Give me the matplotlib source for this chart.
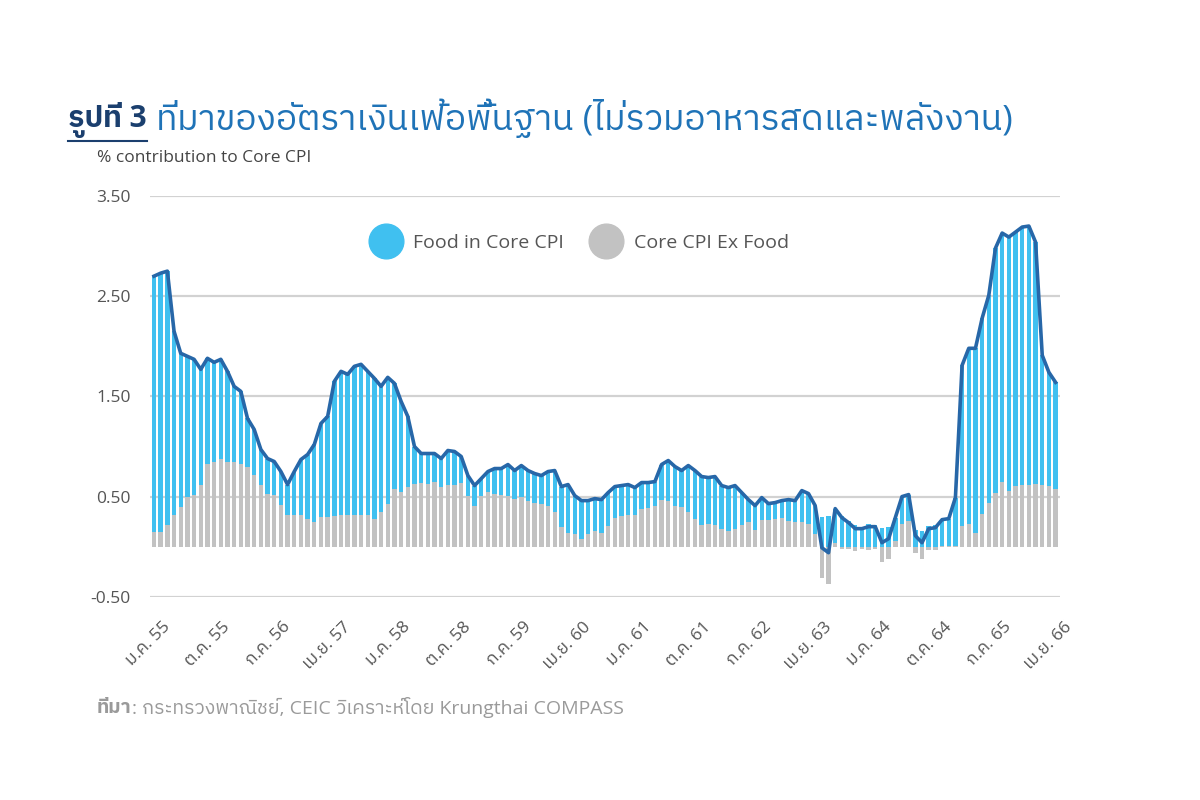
import numpy as np
import matplotlib
matplotlib.use("Agg")
import matplotlib.pyplot as plt
from matplotlib import font_manager
from matplotlib.ft2font import FT2Font
from matplotlib.lines import Line2D
from matplotlib.transforms import ScaledTranslation

# === Thai font suchen (DejaVu hat keine Thai-Glyphen) ===
def find_thai_font():
    names = []
    for f in font_manager.fontManager.ttflist:
        try:
            if 0x0E21 in FT2Font(f.fname).get_charmap():
                names.append(f.name)
        except Exception:
            pass
    names = sorted(set(names))
    for n in names:
        if "Thai" in n and "Sans" in n and "Looped" not in n:
            return n
    for n in names:
        if "Thai" in n:
            return n
    return names[0] if names else "DejaVu Sans"

THAI = find_thai_font()
FAMILY = ["Open Sans", THAI, "DejaVu Sans"]
plt.rcParams["font.family"] = FAMILY

# === Daten (Jan 2012 - Apr 2023, monatlich) ===
total = [2.70, 2.73, 2.75, 2.15, 1.93, 1.90, 1.87, 1.77, 1.88, 1.84, 1.87, 1.75,
         1.60, 1.55, 1.28, 1.17, 0.97, 0.88, 0.85, 0.75, 0.62, 0.75, 0.87, 0.92,
         1.02, 1.23, 1.30, 1.65, 1.75, 1.72, 1.80, 1.82, 1.75, 1.68, 1.60, 1.69,
         1.63, 1.45, 1.30, 1.00, 0.93, 0.93, 0.93, 0.88, 0.96, 0.95, 0.90, 0.71,
         0.61, 0.68, 0.75, 0.78, 0.78, 0.82, 0.76, 0.81, 0.76, 0.73, 0.71, 0.75,
         0.76, 0.60, 0.62, 0.51, 0.46, 0.46, 0.48, 0.47, 0.54, 0.60, 0.61, 0.62,
         0.59, 0.64, 0.64, 0.65, 0.82, 0.86, 0.80, 0.76, 0.81, 0.76, 0.70, 0.69,
         0.70, 0.61, 0.59, 0.61, 0.54, 0.47, 0.41, 0.49, 0.43, 0.44, 0.46, 0.47,
         0.46, 0.56, 0.53, 0.41, -0.01, -0.06, 0.38, 0.29, 0.24, 0.18, 0.18, 0.20,
         0.20, 0.04, 0.08, 0.29, 0.50, 0.52, 0.11, 0.04, 0.18, 0.19, 0.27, 0.28,
         0.49, 1.81, 1.98, 1.98, 2.28, 2.51, 2.98, 3.13, 3.09, 3.14, 3.19, 3.20,
         3.04, 1.91, 1.74, 1.64]

ex_food = [0.15, 0.15, 0.22, 0.32, 0.40, 0.50, 0.52, 0.62, 0.83, 0.85, 0.88, 0.85,
           0.85, 0.83, 0.80, 0.72, 0.62, 0.53, 0.52, 0.42, 0.32, 0.32, 0.32, 0.28,
           0.25, 0.30, 0.30, 0.31, 0.32, 0.32, 0.32, 0.32, 0.32, 0.28, 0.35, 0.43,
           0.58, 0.55, 0.60, 0.63, 0.64, 0.63, 0.65, 0.60, 0.62, 0.62, 0.64, 0.51,
           0.41, 0.51, 0.55, 0.53, 0.52, 0.51, 0.48, 0.50, 0.46, 0.44, 0.43, 0.41,
           0.35, 0.20, 0.14, 0.13, 0.08, 0.13, 0.16, 0.14, 0.21, 0.29, 0.31, 0.32,
           0.32, 0.38, 0.39, 0.41, 0.47, 0.46, 0.41, 0.40, 0.35, 0.28, 0.22, 0.23,
           0.22, 0.18, 0.16, 0.18, 0.22, 0.25, 0.17, 0.27, 0.27, 0.28, 0.29, 0.26,
           0.25, 0.25, 0.23, 0.13, -0.31, -0.37, 0.04, -0.02, -0.02, -0.04, -0.02, -0.03,
           -0.02, -0.15, -0.12, 0.06, 0.23, 0.26, -0.06, -0.12, -0.03, -0.03, 0.01, 0.01,
           0.01, 0.21, 0.23, 0.14, 0.33, 0.44, 0.54, 0.65, 0.56, 0.61, 0.62, 0.62,
           0.63, 0.62, 0.61, 0.58]

tick_labels = ["ม.ค. 55", "ต.ค. 55", "ก.ค. 56", "เม.ย. 57", "ม.ค. 58", "ต.ค. 58",
               "ก.ค. 59", "เม.ย. 60", "ม.ค. 61", "ต.ค. 61", "ก.ค. 62", "เม.ย. 63",
               "ม.ค. 64", "ต.ค. 64", "ก.ค. 65", "เม.ย. 66"]
tick_step = 9

y_ticks = [-0.5, 0.5, 1.5, 2.5, 3.5]

# === Farben ===
BLUE = "#40C0F0"
GRAY = "#C2C2C2"
LINE = "#2767A8"
TXT = "#555555"

total = np.array(total)
ex_food = np.array(ex_food)
food = total - ex_food
x = np.arange(len(total))
food_bottom = np.where(ex_food > 0, ex_food, 0)

fig = plt.figure(figsize=(12, 8), dpi=100)
ax = fig.add_axes([0.125, 0.254, 0.758, 0.501])

ax.bar(x, ex_food, width=0.66, color=GRAY, zorder=2)
ax.bar(x, food, bottom=food_bottom, width=0.66, color=BLUE, zorder=2)
ax.plot(x, total, color=LINE, lw=2.6, zorder=3, solid_joinstyle="round")

ax.set_ylim(-0.5, 3.5)
ax.set_xlim(-0.6, len(total) - 0.4)
ax.set_yticks(y_ticks)
ax.set_yticklabels([f"{v:.2f}" for v in y_ticks], fontsize=12.5, color=TXT)
ax.yaxis.grid(True, color="#D2D2D2", lw=1.6, zorder=0)
ax.set_axisbelow(True)
for s in ax.spines.values():
    s.set_visible(False)
ax.tick_params(axis="both", length=0)
ax.tick_params(axis="y", pad=14)

ax.set_xticks(x[::tick_step])
ax.set_xticklabels(tick_labels, rotation=45, ha="right", va="center",
                   rotation_mode="anchor", fontsize=12.5, color=TXT)
ax.tick_params(axis="x", pad=20)
off = ScaledTranslation(10 / 72, 0, fig.dpi_scale_trans)
for lbl in ax.get_xticklabels():
    lbl.set_transform(lbl.get_transform() + off)

# Legende
handles = [Line2D([], [], ls="none", marker="o", ms=25, color=BLUE, label="Food in Core CPI"),
           Line2D([], [], ls="none", marker="o", ms=25, color=GRAY, label="Core CPI Ex Food")]
ax.legend(handles=handles, loc="upper center", bbox_to_anchor=(0.47, 0.95), ncol=2,
          frameon=False, fontsize=14, labelcolor=TXT, handletextpad=0.4,
          columnspacing=1.2)

# Titel
t1 = fig.text(68 / 1200, 1 - 127 / 800, "รูปที่ 3", fontsize=21.5, fontweight="bold",
              color="#1B3F6E", ha="left", va="baseline")
ax.annotate(" ที่มาของอัตราเงินเฟ้อพื้นฐาน (ไม่รวมอาหารสดและพลังงาน)", xy=(1, 0),
            xycoords=t1, va="bottom", ha="left", fontsize=25.5, color="#1F73B7",
            annotation_clip=False)

fig.text(97 / 1200, 1 - 158 / 800, "% contribution to Core CPI", fontsize=12.5,
         color="#444444", ha="left", va="center")

# Quelle
s1 = fig.text(97 / 1200, 1 - 708 / 800, "ที่มา", fontsize=14, fontweight="bold",
              color="#9A9A9A", ha="left", va="center")
ax.annotate(": กระทรวงพาณิชย์, CEIC วิเคราะห์โดย Krungthai COMPASS", xy=(1, 0),
            xycoords=s1, va="bottom", ha="left", fontsize=14, color="#9A9A9A",
            annotation_clip=False)

# Unterstreichung
fig.canvas.draw()
bb = t1.get_window_extent()
yy = bb.y0 - 3
fig.add_artist(Line2D([bb.x0 / 1200, bb.x1 / 1200], [yy / 800, yy / 800],
                      color="#1B3F6E", lw=1.5))

fig.savefig("out.png", dpi=100)
